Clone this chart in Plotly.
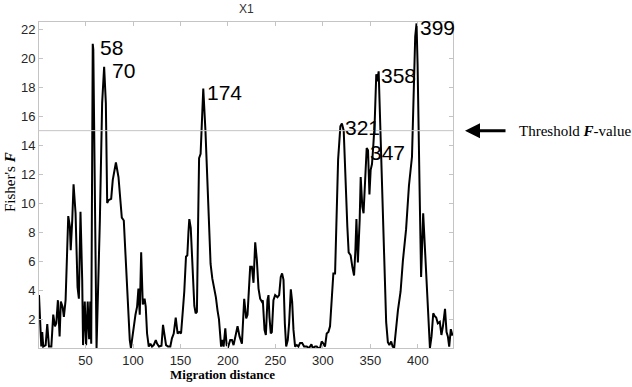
import plotly.graph_objects as go

# Migration distance (x) and Fisher's F (y)
distance = [
    1, 2.7, 3.4, 4.4, 5.5, 8, 9.7, 11.5, 14, 16, 17.8, 19.2, 20.9, 22.7, 24, 25.8, 27.2, 29,
    31.8, 33.5, 34.4, 36, 37.4, 39.5, 40.5, 41.6, 43, 44.7, 46.5, 47.4, 49.2, 50.6, 52.3, 53.8,
    55, 56, 57.6, 58.2, 61.6, 63.3, 65.1, 67.5, 69.6, 71.4, 72.8, 74.2, 77, 78.7, 82, 84.7,
    86.8, 88.2, 90.3, 92.8, 95.2, 96.6, 97.8, 100.8, 102.6, 104.3, 105.7, 107.1, 108.6, 110.3,
    112.2, 113.4, 114.8, 116.6, 118.3, 120, 121.8, 124, 125.3, 127.4, 130, 131.6, 133, 134.8,
    136.9, 139.3, 141, 142.9, 145, 147, 148.8, 150.6, 152.5, 154, 155.8, 157.2, 158.4, 159.3,
    160.8, 162.6, 164.6, 166, 167.3, 168.6, 169.6, 171.2, 174, 176.3, 178.2, 180, 181.7,
    183.5, 185.2, 187.3, 189, 190.5, 192.8, 194, 195.4, 197.2, 198.6, 200.3, 202.4, 204.2,
    205.9, 207.7, 210.1, 212.2, 214.7, 217.1, 219.2, 220.6, 223.4, 225.2, 226.9, 228.7,
    230.4, 232.2, 233.9, 235.7, 236.7, 238.5, 239.9, 241.6, 242.7, 243.7, 245.1, 246.2,
    247.9, 249.7, 252.1, 253.9, 255.6, 257, 258.5, 259.9, 261.3, 263, 264.4, 266.2, 267.6,
    269, 270.7, 272.5, 274.2, 276, 278.1, 280.2, 283, 285.4, 287.9, 289.3, 291.7, 293.5,
    294.9, 297, 298.7, 300.5, 302.2, 304, 305.8, 307.5, 309.3, 311, 312.8, 314.3, 316,
    318.4, 320, 321.9, 323.6, 325.7, 327.1, 329.2, 331, 332.8, 334.2, 335.3, 336.8, 338.7,
    339.8, 341.5, 342.8, 344.5, 346.1, 347.5, 349, 350.3, 351.7, 353.1, 354.5, 356.2,
    357.3, 358.7, 360.2, 362.5, 364.7, 366.6, 368.4, 370, 371.9, 373.4, 375, 376.9, 379,
    381.8, 384.2, 387.6, 390.6, 393.8, 395.5, 397.2, 398.6, 399.7, 401.8, 403.4, 405.6,
    407.2, 408.8, 410.5, 411.6, 412.7, 414.4, 416.2, 417.8, 419.3, 421, 423.1, 424.8,
    426.4, 428.6, 430.2, 431.6, 433, 434.7, 436.5,
]
fisher_f = [
    3.65, 1.1, 0.1, 1.1, 0.1, 0.2, 1.65, 0.1, 0.1, 2.3, 1.5, 1.7, 3.3, 0.8, 3.2, 2.85, 2.15, 3.3,
    9.1, 8.4, 6.75, 8.8, 11.3, 9.3, 6.5, 4.2, 3.4, 9.4, 4.7, 0.2, 3.2, 0.2, 3.2, 0.6,
    3.2, 0.3, 21.0, 20.6, 0.0, 4.2, 8.8, 16.9, 19.4, 16.9, 10.0, 10.2, 10.3, 11.6, 12.8, 11.8,
    10.2, 9.0, 8.8, 5.6, 2.2, 0.55, 0.0, 1.6, 2.3, 2.85, 4.1, 2.3, 6.6, 3.0,
    3.4, 2.85, 1.0, 0.1, 0.3, 0.1, 0.2, 0.55, 0.3, 0.1, 0.15, 1.6, 0.8, 0.2,
    0.1, 0.1, 0.67, 1.0, 2.1, 1.0, 1.1, 1.0, 2.6, 3.9, 6.3, 6.4, 8.0, 8.9,
    8.3, 6.1, 2.9, 2.4, 2.5, 8.8, 13.1, 13.4, 17.9, 15.0, 11.2, 8.5, 5.8,
    4.8, 4.2, 3.5, 2.6, 2.0, 0.1, 0.55, 0.1, 1.35, 0.2, 0.1, 0.55, 0.55,
    0.2, 0.8, 1.5, 0.8, 0.3, 3.4, 2.05, 2.3, 5.6, 5.6, 4.5, 7.3,
    6.1, 4.1, 3.4, 3.2, 3.3, 1.25, 0.9, 3.3, 3.65, 2.15, 1.0, 1.1,
    3.3, 3.65, 3.5, 3.65, 4.9, 5.15, 4.7, 1.7, 0.1, 0.55, 1.7, 4.05, 3.2,
    1.25, 0.1, 0.2, 0.1, 0.35, 0.35, 0.1, 0.1, 0.0, 0.25, 0.0, 0.1, 0.1,
    0.0, 0.0, 0.45, 0.3, 0.1, 1.0, 1.1, 1.5, 3.1, 5.15, 5.15, 9.7, 13.0,
    15.3, 15.5, 15.0, 11.6, 8.4, 6.6, 6.4, 5.6, 5.0, 6.75, 8.9, 5.9, 8.8,
    11.8, 9.75, 9.3, 12.3, 13.8, 13.65, 10.6, 12.3, 12.7, 14.0, 15.5, 18.9,
    18.4, 19.1, 16.0, 10.3, 6.1, 1.8, 0.4, 0.2, 0.45, 0.1, 0.0, 1.35, 2.6,
    3.9, 6.0, 8.2, 11.2, 13.2, 18.0, 21.5, 22.4, 19.6, 11.0, 4.9, 9.3,
    7.3, 5.1, 2.3, 0.9, 0.0, 0.8, 2.4, 2.2, 2.1, 1.7, 1.8, 0.9,
    1.5, 2.7, 1.1, 0.8, 0.1, 1.3, 0.85,
]

# Peak labels
peak_labels = ["58", "70", "174", "321", "347", "358", "399"]
peak_x = [57.6, 69.6, 174, 320, 346.1, 358.7, 398.6]
peak_y = [21.0, 19.4, 17.9, 15.5, 13.8, 19.1, 22.4]
label_dx = [5, 6, 2, 1, 1, 0, 1]  # pixel nudges (style)

THRESHOLD = 15
x_ticks = [50, 100, 150, 200, 250, 300, 350, 400]
y_ticks = [2, 4, 6, 8, 10, 12, 14, 16, 18, 20, 22]

SANS = "Liberation Sans, Arial, sans-serif"
SERIF = "Liberation Serif, Times New Roman, serif"
GRID = "#c4c4c4"

fig = go.Figure()
fig.add_trace(go.Scatter(
    x=distance, y=fisher_f, mode="lines",
    line=dict(color="black", width=2), hoverinfo="skip", showlegend=False,
))

fig.add_shape(type="line", xref="paper", x0=0, x1=1, yref="y", y0=THRESHOLD, y1=THRESHOLD,
              line=dict(color=GRID, width=1))

annotations = []
for t, px, py, dx in zip(peak_labels, peak_x, peak_y, label_dx):
    annotations.append(dict(
        x=px, y=py, text=t, showarrow=False, xanchor="left", yanchor="middle",
        xshift=dx, yshift=-4, font=dict(family=SANS, size=21, color="black"),
    ))

# Threshold arrow and text
annotations.append(dict(
    xref="paper", yref="y", x=1.029, y=THRESHOLD, text="", showarrow=True,
    ax=42, ay=0, arrowhead=2, arrowsize=1, arrowwidth=3, arrowcolor="black", standoff=0,
))
annotations.append(dict(
    xref="paper", yref="y", x=1.1546, y=THRESHOLD, text="Threshold <b><i>F</i></b>-value",
    showarrow=False, xanchor="left", yanchor="middle",
    font=dict(family=SERIF, size=15, color="black"),
))
# Axis titles and chart title
annotations.append(dict(
    xref="paper", yref="paper", x=-0.070, y=0.509, text="Fisher's <b><i>F</i></b>",
    textangle=-90, showarrow=False, xanchor="center", yanchor="middle",
    font=dict(family=SERIF, size=15, color="black"),
))
annotations.append(dict(
    xref="paper", yref="paper", x=0.4444, y=-0.0828, text="<b>Migration distance</b>",
    showarrow=False, xanchor="center", yanchor="middle",
    font=dict(family=SERIF, size=13, color="black"),
))
annotations.append(dict(
    xref="paper", yref="paper", x=0.5, y=1.04, text="X1",
    showarrow=False, xanchor="center", yanchor="middle",
    font=dict(family=SANS, size=12, color="#333333"),
))

fig.update_layout(
    width=632, height=387,
    margin=dict(l=39, r=179, t=22, b=39),
    paper_bgcolor="white", plot_bgcolor="white",
    annotations=annotations,
    showlegend=False,
)
fig.update_xaxes(
    range=[1, 437], tickvals=x_ticks, ticks="inside", ticklen=4, tickcolor=GRID,
    showline=True, linecolor=GRID, linewidth=1, mirror="ticks", showgrid=False, zeroline=False,
    tickfont=dict(family=SANS, size=13, color="#262626"),
)
fig.update_yaxes(
    range=[0, 22.5], tickvals=y_ticks, ticks="inside", ticklen=4, tickcolor=GRID,
    showline=True, linecolor=GRID, linewidth=1, mirror="ticks", showgrid=False, zeroline=False,
    tickfont=dict(family=SANS, size=13, color="#262626"),
)

fig.write_html(
    "out.html",
    config={"displayModeBar": False, "staticPlot": True},
    post_script="document.body.style.margin='0px';document.body.style.overflow='hidden';",
)
